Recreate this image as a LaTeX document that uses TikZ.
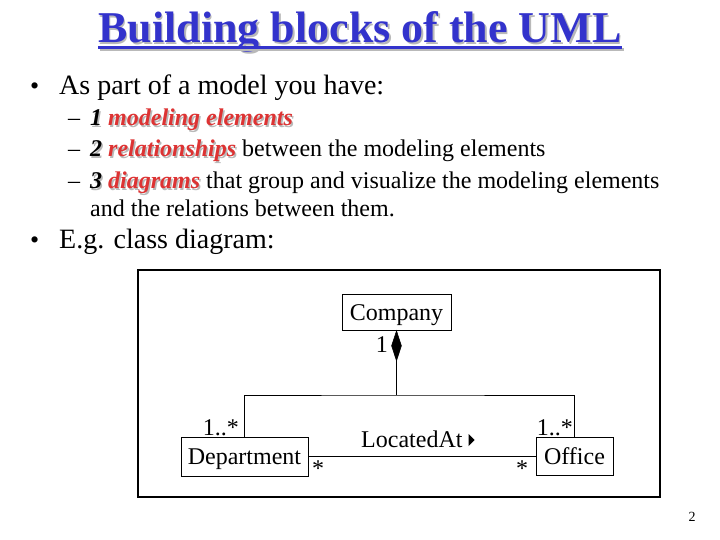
\documentclass[tikz,border=0pt]{standalone}
\usepackage{fontspec}
\setmainfont{Liberation Serif}
\usetikzlibrary{calc,shapes.geometric}
\definecolor{titleblue}{RGB}{51,51,204}
\definecolor{emred}{RGB}{221,51,51}
\definecolor{shadowgray}{RGB}{185,185,185}
\newcommand{\shd}[2]{\makebox[0pt][l]{\hspace{1.5pt}\raisebox{-1.5pt}{\textcolor{shadowgray}{#2}}}\textcolor{#1}{#2}}
\newcommand{\fsz}[1]{\rmfamily\fontsize{#1}{#1}\selectfont}
\begin{document}
\begin{tikzpicture}[x=1pt,y=-1pt,
  txt/.style={inner sep=0pt, anchor=base west},
  bodytxt/.style={txt, font=\fsz{28}},
  bul/.style={txt, font=\fsz{26}},
  subtxt/.style={txt, font=\fsz{24}},
  lbl/.style={inner sep=0pt, font=\fsz{24}},
  cls/.style={draw, line width=1pt, inner sep=0pt, text height=20pt, text depth=4pt, font=\fsz{24}},
  conn/.style={line width=1pt}
]
\useasboundingbox (0,0) rectangle (720,540);
\fill[white] (0,0) rectangle (720,540);
% title
\node[inner sep=0pt, anchor=base, font=\fsz{44}\bfseries] (title) at (360,43) {\shd{titleblue}{Building blocks of the UML}};
\fill[shadowgray] ($(title.base west)+(2,5)$) rectangle ($(title.base east)+(2,8)$);
\fill[titleblue] ($(title.base west)+(0,3)$) rectangle ($(title.base east)+(0,6)$);
% body text
\node[bul] (b1) at (30,95) {•};
\node[bodytxt] (t1) at (59,95) {As part of a model you have:};
\node[subtxt] (d1) at (68,126) {–};
\node[subtxt] (s1) at (90,126) {\shd{black}{\textbf{\textit{1}}} \shd{emred}{\textbf{\textit{modeling elements}}}};
\node[subtxt] (d2) at (68,157) {–};
\node[subtxt] (s2) at (90,157) {\shd{black}{\textbf{\textit{2}}} \shd{emred}{\textbf{\textit{relationships}}} between the modeling elements};
\node[subtxt] (d3) at (68,189) {–};
\node[subtxt] (s3) at (90,189) {\shd{black}{\textbf{\textit{3}}} \shd{emred}{\textbf{\textit{diagrams}}} that group and visualize the modeling elements};
\node[subtxt] (s3b) at (90,216) {and the relations between them.};
\node[bul] (b2) at (30,248) {•};
\node[bodytxt] (t2) at (59,248) {E.g. class diagram:};
% diagram frame
\draw[line width=1.5pt] (138,270) rectangle (660,497);
% classes
\node[cls, minimum width=109pt, minimum height=36pt] (company) at (396.5,312) {Company};
\node[cls, minimum width=127pt, minimum height=39pt] (dept) at (244.5,456.5) {Department};
\node[cls, minimum width=77pt, minimum height=38pt] (office) at (574.5,456) {Office};
\node[diamond, draw, fill, line width=0.6pt, inner sep=0pt, minimum width=10pt, minimum height=30pt, anchor=north] (dia) at (company.south) {};
% connectors
\coordinate (junc) at (dia.south |- 0,395);
\draw[conn] (dia.south) -- (junc);
\draw[conn] (dept.north) |- (junc) -| (office.north);
\draw[conn] (dept.east) -- (dept.east -| office.west);
% labels
\node[lbl, anchor=base east] (one) at (388,352) {1};
\node[lbl, anchor=base east] (m1) at (239,435) {1..*};
\node[lbl, anchor=base east] (m2) at (573,435) {1..*};
\node[lbl, anchor=base west] (st1) at (312,476) {*};
\node[lbl, anchor=base west] (st2) at (516,476) {*};
\node[lbl, anchor=base west] (lab) at (361,447) {LocatedAt};
\fill ($(lab.base east)+(6,-13)$) -- ($(lab.base east)+(6,-1)$) -- ($(lab.base east)+(12,-7)$) -- cycle;
% page number
\node[inner sep=0pt, font=\fsz{14}] (pg) at (692,517) {2};
\end{tikzpicture}
\end{document}
